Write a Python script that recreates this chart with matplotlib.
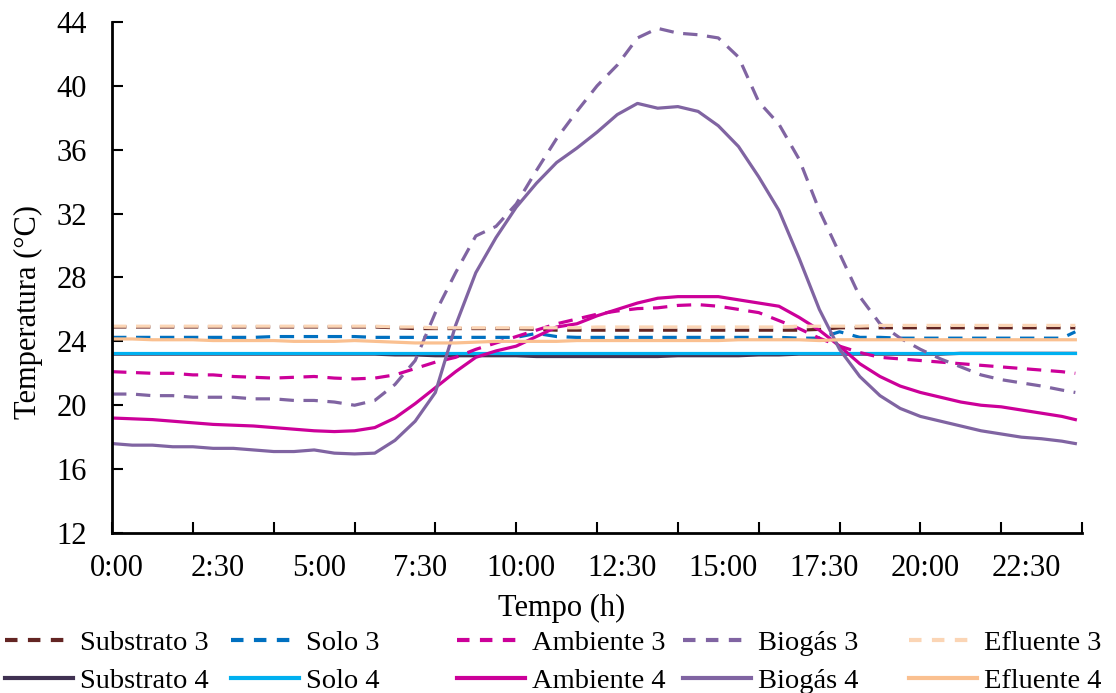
import matplotlib
matplotlib.use('Agg')
import matplotlib.pyplot as plt
from matplotlib.lines import Line2D
import numpy as np

plt.rcParams['font.family'] = ['Liberation Serif', 'DejaVu Serif']
plt.rcParams['font.size'] = 22

# tempo em horas (passo de 30 min, último ponto 23:50)
horas = list(np.arange(0, 24, 0.5)) + [23 + 50 / 60]

substrato3 = [24.9, 24.9, 24.9, 24.9, 24.9, 24.9, 24.9, 24.9, 24.9, 24.9,
              24.9, 24.9, 24.9, 24.9, 24.85, 24.8, 24.8, 24.8, 24.8, 24.8,
              24.8, 24.75, 24.7, 24.7, 24.7, 24.7, 24.7, 24.7, 24.7, 24.7,
              24.7, 24.7, 24.7, 24.7, 24.7, 24.75, 24.85, 24.85, 24.85, 24.85,
              24.85, 24.85, 24.85, 24.85, 24.85, 24.85, 24.85, 24.85, 24.85]
substrato4 = [23.2, 23.2, 23.2, 23.2, 23.2, 23.2, 23.2, 23.2, 23.2, 23.2,
              23.2, 23.2, 23.2, 23.2, 23.15, 23.15, 23.1, 23.1, 23.1, 23.1,
              23.1, 23.05, 23.05, 23.05, 23.05, 23.05, 23.05, 23.05, 23.1, 23.1,
              23.1, 23.1, 23.15, 23.15, 23.2, 23.2, 23.2, 23.2, 23.2, 23.2,
              23.2, 23.2, 23.25, 23.25, 23.25, 23.25, 23.25, 23.25, 23.25]
solo3 = [24.25, 24.25, 24.25, 24.25, 24.25, 24.25, 24.25, 24.25, 24.3, 24.3,
         24.3, 24.3, 24.3, 24.25, 24.25, 24.25, 24.25, 24.25, 24.25, 24.25,
         24.25, 24.5, 24.3, 24.25, 24.25, 24.25, 24.25, 24.25, 24.25, 24.25,
         24.25, 24.25, 24.25, 24.25, 24.2, 24.2, 24.6, 24.25, 24.25, 24.2,
         24.2, 24.2, 24.2, 24.2, 24.2, 24.2, 24.2, 24.2, 24.6]
solo4 = [23.25, 23.25, 23.25, 23.25, 23.25, 23.25, 23.25, 23.25, 23.25, 23.25,
         23.25, 23.25, 23.25, 23.25, 23.25, 23.25, 23.25, 23.25, 23.25, 23.25,
         23.25, 23.25, 23.25, 23.25, 23.25, 23.25, 23.25, 23.25, 23.25, 23.25,
         23.25, 23.25, 23.25, 23.25, 23.25, 23.25, 23.25, 23.25, 23.25, 23.25,
         23.25, 23.25, 23.25, 23.25, 23.25, 23.25, 23.25, 23.25, 23.25]
ambiente3 = [22.1, 22.05, 22.0, 22.0, 21.9, 21.9, 21.8, 21.75, 21.7, 21.75,
             21.8, 21.7, 21.65, 21.7, 21.9, 22.3, 22.7, 23.0, 23.5, 23.9,
             24.3, 24.7, 25.1, 25.4, 25.7, 25.9, 26.05, 26.1, 26.25, 26.3,
             26.2, 26.0, 25.8, 25.3, 24.8, 24.2, 23.7, 23.3, 23.0, 22.9,
             22.8, 22.7, 22.6, 22.5, 22.4, 22.3, 22.2, 22.1, 22.0]
ambiente4 = [19.2, 19.15, 19.1, 19.0, 18.9, 18.8, 18.75, 18.7, 18.6, 18.5,
             18.4, 18.35, 18.4, 18.6, 19.2, 20.1, 21.1, 22.1, 23.0, 23.4,
             23.7, 24.3, 24.9, 25.1, 25.6, 26.0, 26.4, 26.7, 26.8, 26.8,
             26.8, 26.6, 26.4, 26.2, 25.5, 24.7, 23.7, 22.6, 21.8, 21.2,
             20.8, 20.5, 20.2, 20.0, 19.9, 19.7, 19.5, 19.3, 19.1]
biogas3 = [20.7, 20.7, 20.6, 20.6, 20.5, 20.5, 20.5, 20.4, 20.4, 20.3,
           20.3, 20.2, 20.0, 20.3, 21.3, 22.8, 25.8, 28.3, 30.6, 31.2,
           32.6, 34.7, 36.7, 38.4, 40.0, 41.3, 43.0, 43.6, 43.3, 43.2,
           43.0, 41.8, 39.0, 37.6, 35.4, 32.2, 29.5, 26.8, 25.1, 24.2,
           23.5, 22.9, 22.4, 21.9, 21.6, 21.4, 21.2, 20.95, 20.8]
biogas4 = [17.6, 17.5, 17.5, 17.4, 17.4, 17.3, 17.3, 17.2, 17.1, 17.1,
           17.2, 17.0, 16.95, 17.0, 17.8, 19.0, 20.8, 25.0, 28.3, 30.5,
           32.4, 33.9, 35.2, 36.1, 37.1, 38.2, 38.9, 38.6, 38.7, 38.4,
           37.5, 36.2, 34.3, 32.2, 29.2, 26.0, 23.5, 21.8, 20.6, 19.8,
           19.3, 19.0, 18.7, 18.4, 18.2, 18.0, 17.9, 17.75, 17.6]
efluente3 = [24.95, 24.95, 24.95, 24.95, 24.95, 24.95, 24.95, 24.95, 24.95, 24.95,
             24.95, 24.95, 24.95, 24.95, 24.9, 24.9, 24.85, 24.85, 24.85, 24.85,
             24.85, 24.85, 24.85, 24.85, 24.9, 24.9, 24.9, 24.9, 24.9, 24.9,
             24.9, 24.9, 24.9, 24.9, 24.95, 24.95, 24.95, 24.95, 25.0, 25.0,
             25.0, 25.0, 25.0, 25.0, 25.0, 25.0, 25.0, 25.0, 25.0]
efluente4 = [24.15, 24.15, 24.1, 24.1, 24.1, 24.05, 24.05, 24.05, 24.05, 24.0,
             24.0, 24.0, 24.05, 24.0, 23.95, 23.9, 23.9, 23.9, 23.95, 24.0,
             24.0, 24.0, 24.0, 24.05, 24.05, 24.05, 24.05, 24.05, 24.05, 24.05,
             24.05, 24.1, 24.1, 24.1, 24.1, 24.05, 24.1, 24.1, 24.1, 24.1,
             24.1, 24.1, 24.1, 24.1, 24.1, 24.1, 24.1, 24.1, 24.1]

nomes = ['Substrato', 'Solo', 'Ambiente', 'Biogás', 'Efluente']
series3 = [substrato3, solo3, ambiente3, biogas3, efluente3]
series4 = [substrato4, solo4, ambiente4, biogas4, efluente4]
cores3 = ['#632523', '#0070C0', '#CC0099', '#8064A2', '#FBD5B5']
cores4 = ['#403152', '#00B0F0', '#CC0099', '#8064A2', '#FAC090']

rotulos_x = ['0:00', '2:30', '5:00', '7:30', '10:00', '12:30', '15:00',
             '17:30', '20:00', '22:30']

fig = plt.figure(figsize=(11.16, 6.93), dpi=100)
ax = fig.add_axes([0.1004, 0.2309, 0.8692, 0.7374])

tracos = (4.5, 3)
for nome, s3, s4, c3, c4 in zip(nomes, series3, series4, cores3, cores4):
    ax.plot(horas, s3, color=c3, lw=2.3, dashes=tracos, label=nome + ' 3')
    ax.plot(horas, s4, color=c4, lw=2.3, label=nome + ' 4')

ax.set_xlim(0, 24)
ax.set_ylim(12, 44)
ax.set_yticks(np.arange(12, 45, 4))
ax.set_xticks(np.arange(0, 24, 2.5) + 0.12)
ax.set_xticklabels(rotulos_x)
ax.set_xticks(np.arange(0, 25, 2), minor=True)
ax.tick_params(axis='x', which='major', length=0, pad=15, labelsize=22)
ax.tick_params(axis='x', which='minor', direction='in', length=8, width=1.5)
ax.tick_params(axis='y', direction='in', length=8, width=1.5, pad=18, labelsize=22)

for lado in ['top', 'right']:
    ax.spines[lado].set_visible(False)
for lado in ['left', 'bottom']:
    ax.spines[lado].set_linewidth(2)

fig.text(562 / 1116, 1 - 608 / 693, 'Tempo (h)', ha='center', va='center', fontsize=22)
fig.text(28 / 1116, 1 - 312 / 693, 'Temperatura (°C)', ha='center', va='center',
         rotation=90, fontsize=22)

# legenda em colunas de largura igual
for i, (nome, c3, c4) in enumerate(zip(nomes, cores3, cores4)):
    h = [Line2D([], [], color=c3, lw=3, dashes=(3, 2.5)),
         Line2D([], [], color=c4, lw=3)]
    leg = fig.legend(h, [nome + ' 3', nome + ' 4'], loc='upper left',
                     bbox_to_anchor=((5 + 226 * i) / 1116, 1 - 630 / 693),
                     frameon=False, borderpad=0, borderaxespad=0,
                     handlelength=2.4, handletextpad=0.25, labelspacing=0.42,
                     fontsize=20.5)

fig.savefig('out.png', dpi=100)
